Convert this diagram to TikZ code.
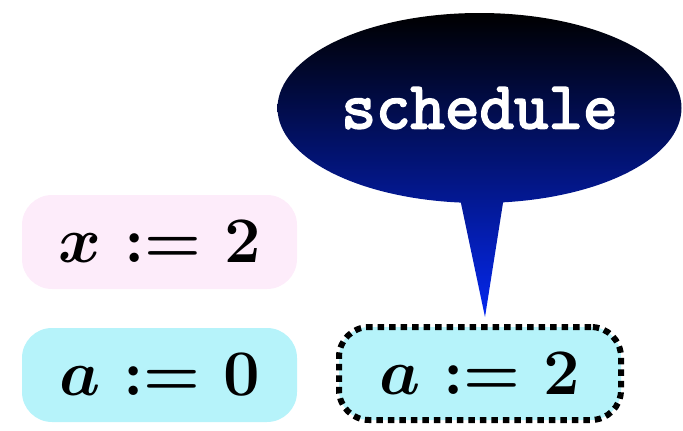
\RequirePackage{fix-cm}
\documentclass[tikz,border=0pt]{standalone}
\usepackage{fontspec}
\newfontfamily\schedfont{Latin Modern Mono}[FakeBold=3]
\usetikzlibrary{shapes.callouts,shapes.geometric}
\definecolor{pinkfill}{RGB}{253,236,250}
\definecolor{cyanfill}{RGB}{182,243,250}
\definecolor{tipblue}{RGB}{5,40,240}
\thickmuskip=5.5mu
\tikzset{
  assign/.style={rectangle, rounded corners=30pt, minimum width=275pt, minimum height=94pt, inner sep=0pt,
    font=\fontsize{65}{68}\selectfont\boldmath},
  dotbox/.style={assign, minimum width=282pt, minimum height=93pt, draw=black, line width=6pt,
    dash pattern=on 6.5pt off 5pt},
}
\begin{document}
\begin{tikzpicture}[x=1pt,y=-1pt]
\useasboundingbox (0,0) rectangle (683,431);
\node[assign, fill=pinkfill] (x2) at (159.5,242) {$x := 2$};
\node[assign, fill=cyanfill] (a0) at (159.5,375) {$a := 0$};
\node[dotbox, fill=cyanfill] (a2) at (480,373.5) {$a := 2$};
\coordinate (tip) at (485,317);
\node[ellipse callout, minimum width=404pt, minimum height=190pt, inner sep=0pt,
  callout absolute pointer={(tip)}, callout pointer arc=12,
  top color=black, bottom color=tipblue, draw=none,
  text=white, font=\fontsize{67}{70}\selectfont\schedfont] (sched) at (479.5,108) {schedule};
\end{tikzpicture}
\end{document}
